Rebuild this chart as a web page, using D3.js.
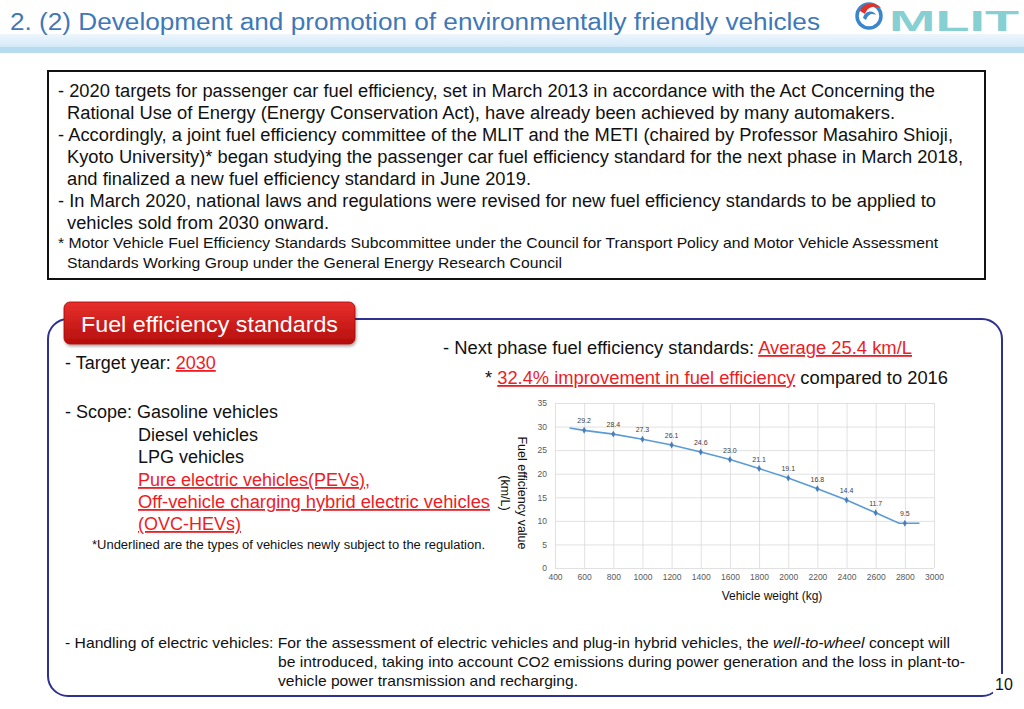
<!DOCTYPE html>
<html><head><meta charset="utf-8">
<script src="https://cdn.jsdelivr.net/npm/d3@7"></script>
<style>
html,body{margin:0;padding:0;background:#fff;}
svg{display:block;}
text{font-family:"Liberation Sans",Arial,sans-serif;}
</style></head>
<body>
<script>
// ---------- data ----------
const markerWeights = [600, 800, 1000, 1200, 1400, 1600, 1800, 2000, 2200, 2400, 2600, 2800];
const markerValues  = [29.2, 28.4, 27.3, 26.1, 24.6, 23.0, 21.1, 19.1, 16.8, 14.4, 11.7, 9.5];
const markerLabels  = ["29.2","28.4","27.3","26.1","24.6","23.0","21.1","19.1","16.8","14.4","11.7","9.5"];
const curveWeights  = [500, 600, 800, 1000, 1200, 1400, 1600, 1800, 2000, 2200, 2400, 2600, 2760, 2900];
const curveValues   = [29.7, 29.2, 28.4, 27.3, 26.1, 24.6, 23.0, 21.1, 19.1, 16.8, 14.4, 11.7, 9.5, 9.5];
const xTicks = [400, 600, 800, 1000, 1200, 1400, 1600, 1800, 2000, 2200, 2400, 2600, 2800, 3000];
const yTicks = [0, 5, 10, 15, 20, 25, 30, 35];

const W = 1024, H = 709;
const svg = d3.select("body").append("svg").attr("width", W).attr("height", H);
svg.append("rect").attr("width", W).attr("height", H).attr("fill", "#fff");

const defs = svg.append("defs");
const band = defs.append("linearGradient").attr("id","band").attr("x1",0).attr("y1",0).attr("x2",0).attr("y2",1);
band.append("stop").attr("offset","0%").attr("stop-color","#eef6fc");
band.append("stop").attr("offset","65%").attr("stop-color","#d6eaf8");
band.append("stop").attr("offset","70%").attr("stop-color","#b4dcee");
band.append("stop").attr("offset","100%").attr("stop-color","#b4dcee");
const red = defs.append("linearGradient").attr("id","red").attr("x1",0).attr("y1",0).attr("x2",0).attr("y2",1);
red.append("stop").attr("offset","0%").attr("stop-color","#e8302c");
red.append("stop").attr("offset","100%").attr("stop-color","#b50d0d");
const sh = defs.append("filter").attr("id","sh").attr("x","-10%").attr("y","-20%").attr("width","130%").attr("height","160%");
sh.append("feDropShadow").attr("dx",1).attr("dy",2).attr("stdDeviation",1.5).attr("flood-color","#000").attr("flood-opacity",0.35);

// ---------- header ----------
svg.append("rect").attr("x",0).attr("y",34).attr("width",W).attr("height",19).attr("fill","url(#band)");
svg.append("text").attr("x",10).attr("y",30).attr("font-size",23).attr("fill","#3f78b8")
  .attr("textLength",810).attr("lengthAdjust","spacingAndGlyphs")
  .text("2. (2) Development and promotion of environmentally friendly vehicles");

// logo
const logo = svg.append("g");
logo.append("circle").attr("cx",869).attr("cy",16).attr("r",12).attr("fill","none").attr("stroke","#3a86cc").attr("stroke-width",3.5);
logo.append("path").attr("d","M860,11 C862,2 876,1 881,8 C874,5 867,7 865,14 Z").attr("fill","#e0322b");
logo.append("path").attr("d","M863,18 C865,10 874,10 876,15 C872,13 868,14 866,20 Z").attr("fill","#3a86cc");
logo.append("text").attr("x",889).attr("y",31).attr("font-size",30).attr("font-weight","bold")
  .attr("font-family","DejaVu Sans").attr("fill","#86cfd3")
  .attr("textLength",130).attr("lengthAdjust","spacingAndGlyphs").text("MLIT");

// ---------- top text box ----------
svg.append("rect").attr("x",48).attr("y",71).attr("width",937).attr("height",208)
  .attr("fill","#fff").attr("stroke","#111").attr("stroke-width",2);
const boxLines = [
  {x:58, y:97, s:18, w:877, t:"- 2020 targets for passenger car fuel efficiency, set in March 2013 in accordance with the Act Concerning the"},
  {x:67, y:119, s:18, w:828, t:"Rational Use of Energy (Energy Conservation Act), have already been achieved by many automakers."},
  {x:58, y:141, s:18, w:895, t:"- Accordingly, a joint fuel efficiency committee of the MLIT and the METI (chaired by Professor Masahiro Shioji,"},
  {x:67, y:163, s:18, w:896, t:"Kyoto University)* began studying the passenger car fuel efficiency standard for the next phase in March 2018,"},
  {x:67, y:185, s:18, w:464, t:"and finalized a new fuel efficiency standard in June 2019."},
  {x:58, y:207, s:18, w:878, t:"- In March 2020, national laws and regulations were revised for new fuel efficiency standards to be applied to"},
  {x:67, y:229, s:18, w:262, t:"vehicles sold from 2030 onward."},
  {x:58, y:248, s:14.5, w:880, t:"* Motor Vehicle Fuel Efficiency Standards Subcommittee under the Council for Transport Policy and Motor Vehicle Assessment"},
  {x:67, y:268, s:14.5, w:495, t:"Standards Working Group under the General Energy Research Council"}
];
svg.append("g").selectAll("text").data(boxLines).join("text")
  .attr("x",d=>d.x).attr("y",d=>d.y).attr("font-size",d=>d.s).attr("fill","#111")
  .attr("textLength",d=>d.w).attr("lengthAdjust","spacingAndGlyphs").text(d=>d.t);

// ---------- panel ----------
svg.append("rect").attr("x",48).attr("y",319).attr("width",954).attr("height",377).attr("rx",20)
  .attr("fill","#fff").attr("stroke","#2e318f").attr("stroke-width",2);
svg.append("rect").attr("x",64).attr("y",302).attr("width",291).attr("height",42).attr("rx",6)
  .attr("fill","url(#red)").attr("stroke","#a00").attr("stroke-width",0.8).attr("filter","url(#sh)");
svg.append("text").attr("x",81).attr("y",332).attr("font-size",22).attr("fill","#fff")
  .attr("textLength",257).attr("lengthAdjust","spacingAndGlyphs").text("Fuel efficiency standards");

const RED = "#ee1c25";
function richLine(x, y, size, parts, len){
  const t = svg.append("text").attr("x",x).attr("y",y).attr("font-size",size).attr("fill","#111");
  if (len) t.attr("textLength",len).attr("lengthAdjust","spacingAndGlyphs");
  parts.forEach(p=>{
    const ts = t.append("tspan").text(p.t);
    if (p.r){ ts.attr("fill",RED).attr("text-decoration","underline"); }
    if (p.i){ ts.attr("font-style","italic"); }
  });
  return t;
}
richLine(65,369,18,[{t:"- Target year: "},{t:"2030",r:1}]);
richLine(65,418,18,[{t:"- Scope: Gasoline vehicles"}]);
richLine(138,441,18,[{t:"Diesel vehicles"}]);
richLine(138,463,18,[{t:"LPG vehicles"}]);
richLine(138,486,18,[{t:"Pure electric vehicles(PEVs),",r:1}]);
richLine(138,508,18,[{t:"Off-vehicle charging hybrid electric vehicles",r:1}],352);
richLine(138,530,18,[{t:"(OVC-HEVs)",r:1}]);
richLine(92,549,12.5,[{t:"*Underlined are the types of vehicles newly subject to the regulation."}],393);

richLine(443,354,18,[{t:"- Next phase fuel efficiency standards: "},{t:"Average 25.4 km/L",r:1}],469);
richLine(485,384,18,[{t:"* "},{t:"32.4% improvement in fuel efficiency",r:1},{t:" compared to 2016"}],463);

richLine(65,648,14.5,[{t:"- Handling of electric vehicles: For the assessment of electric vehicles and plug-in hybrid vehicles, the "},{t:"well-to-wheel",i:1},{t:" concept will"}],885);
richLine(278,667,14.5,[{t:"be introduced, taking into account CO2 emissions during power generation and the loss in plant-to-"}],687);
richLine(278,686,14.5,[{t:"vehicle power transmission and recharging."}],300);

svg.append("rect").attr("x",993).attr("y",674).attr("width",22).attr("height",20).attr("fill","#fff");
svg.append("text").attr("x",995).attr("y",690).attr("font-size",16).attr("fill","#111").text("10");

// ---------- chart ----------
const x = d3.scaleLinear().domain([400,3000]).range([555,934]);
const y = d3.scaleLinear().domain([0,35]).range([568,403]);
const chart = svg.append("g");

const gx = chart.append("g").attr("transform","translate(0,568)")
  .call(d3.axisBottom(x).tickValues(xTicks).tickFormat(d3.format("d")).tickSize(-(568-403)).tickPadding(6));
gx.select(".domain").remove();
gx.selectAll(".tick line").attr("stroke","#d9d9d9").attr("stroke-width",0.8);
gx.selectAll(".tick text").attr("font-size",8.5).attr("fill","#595959").attr("font-family","Liberation Sans");

const gy = chart.append("g").attr("transform","translate(555,0)")
  .call(d3.axisLeft(y).tickValues(yTicks).tickSize(-(934-555)).tickPadding(8));
gy.select(".domain").remove();
gy.selectAll(".tick line").attr("stroke","#d9d9d9").attr("stroke-width",0.8);
gy.selectAll(".tick text").attr("font-size",8.5).attr("fill","#595959").attr("font-family","Liberation Sans");

const line = d3.line().x(d=>x(d[0])).y(d=>y(d[1]));
chart.append("path").datum(curveWeights.map((w,i)=>[w,curveValues[i]]))
  .attr("d",line).attr("fill","none").attr("stroke","#5b9bd5").attr("stroke-width",1.6);

const pts = markerWeights.map((w,i)=>({w, v:markerValues[i], l:markerLabels[i]}));
chart.append("g").selectAll("path").data(pts).join("path")
  .attr("d",d3.symbol().type(d3.symbolDiamond).size(14))
  .attr("transform",d=>`translate(${x(d.w)},${y(d.v)})`).attr("fill","#4a7ebb");
chart.append("g").selectAll("text").data(pts).join("text")
  .attr("x",d=>x(d.w)).attr("y",d=>y(d.v)-7).attr("text-anchor","middle")
  .attr("font-size",7).attr("fill","#404040").text(d=>d.l);

chart.append("text").attr("transform","translate(518,493) rotate(90)").attr("text-anchor","middle")
  .attr("font-size",12.5).attr("fill","#111").text("Fuel efficiency value");
chart.append("text").attr("transform","translate(501,493) rotate(90)").attr("text-anchor","middle")
  .attr("font-size",12.5).attr("fill","#111").text("(km/L)");
chart.append("text").attr("x",772).attr("y",600).attr("text-anchor","middle")
  .attr("font-size",12).attr("fill","#111").text("Vehicle weight (kg)");
</script>
</body></html>
